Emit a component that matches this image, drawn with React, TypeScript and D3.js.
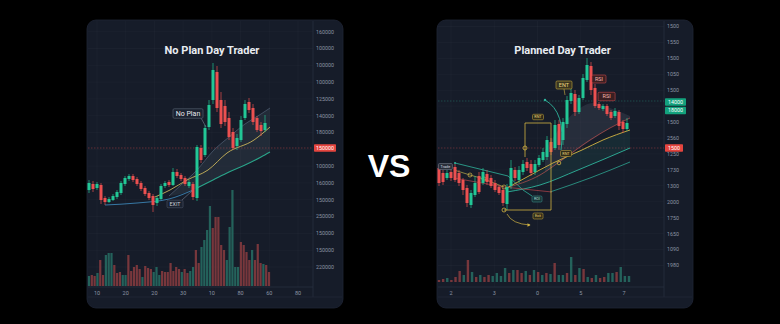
import { scaleLinear, scalePoint, line, area, curveMonotoneX } from "d3";

const W = 780;
const H = 324;

const GREEN = "#22c796";
const RED = "#ec5050";
const VOL_GREEN = "#276e64";
const VOL_RED = "#8a3c3f";
const FONT = "Roboto, 'DejaVu Sans', sans-serif";

// ---- left panel: "No Plan Day Trader" ----
// [open, close, high, low]
const leftCandles = [
  [110, 117, 120, 107], [116, 111, 119, 108], [112, 116, 118, 110], [115, 100, 117, 96],
  [102, 98, 104, 95], [98, 101, 103, 97], [100, 104, 106, 99], [103, 108, 110, 101],
  [107, 117, 119, 105], [116, 122, 124, 114], [121, 124, 126, 119], [124, 120, 126, 118],
  [121, 116, 123, 114], [117, 111, 119, 109], [112, 106, 114, 104], [107, 102, 109, 100],
  [104, 95, 106, 88], [97, 102, 104, 94], [101, 114, 116, 100], [114, 117, 119, 112],
  [118, 115, 120, 113], [115, 128, 132, 114], [128, 124, 131, 122], [125, 121, 127, 119],
  [122, 116, 124, 114], [114, 118, 120, 112], [116, 103, 118, 100], [102, 153, 155, 99],
  [152, 140, 155, 137], [145, 172, 175, 143], [173, 195, 200, 170], [200, 230, 237, 196],
  [228, 192, 234, 188], [200, 176, 208, 172], [194, 178, 200, 174], [182, 163, 188, 160],
  [168, 152, 172, 150], [154, 162, 166, 150], [160, 180, 184, 158], [182, 196, 200, 180],
  [198, 190, 202, 187], [192, 178, 196, 175], [182, 170, 184, 168], [175, 169, 178, 164],
  [170, 177, 185, 168],
];
const leftVolume = [
  10, 11, 10, 13, 26, 11, 31, 33, 33, 21, 13, 14, 11, 11, 31, 15, 19, 21, 17, 9,
  20, 18, 17, 14, 19, 11, 15, 14, 14, 23, 15, 19, 17, 14, 17, 13, 15, 19, 36, 23,
  39, 46, 56, 80, 58, 69, 69, 41, 36, 26, 59, 96, 19, 19, 44, 41, 34, 26, 36, 26,
  42, 23, 22, 21, 14,
];
const leftVolumeDir = "grrgrrgggrrrggrrrrrgrrrgggrrrrrrrgrrggrrggggrrrrrgggggrrrrgrrrg";
const leftPriceTicks = [
  "160000", "100000", "100000", "100000", "125000", "140000", "180000", "150000",
  "100000", "160000", "150000", "250000", "150000", "150000", "220000",
];
const leftTimeTicks = ["10", "20", "20", "30", "10", "80", "60", "80"];
const leftMarkPrice = 152;
// moving average / channel, as [candle index, price]
const leftMA = [[16.5, 103], [20.25, 110], [24.5, 120], [29.75, 130], [34.5, 147], [41.25, 160], [45.25, 173]];
const leftBlue = [[4, 95], [12, 97], [20, 101], [26, 110]];
const bandIndex = [20, 23, 27, 31, 35, 39, 43, 45.25];
const bandTop = [104, 115, 130, 149, 163, 176, 186, 192];
const bandBottom = [104, 106, 112, 120, 128, 135, 143, 148];

// ---- right panel: "Planned Day Trader" ----
const rightCandles = [
  [132, 117, 135, 114], [127, 118, 130, 115], [122, 127, 130, 120], [128, 122, 132, 119],
  [133, 120, 136, 118], [127, 117, 130, 114], [120, 110, 122, 105], [112, 97, 115, 93],
  [95, 107, 110, 92], [105, 117, 124, 103], [124, 108, 128, 106], [117, 128, 132, 115],
  [126, 118, 130, 115], [122, 114, 125, 112], [117, 110, 120, 108], [113, 107, 115, 105],
  [110, 97, 112, 94], [96, 113, 116, 90], [114, 132, 140, 111], [130, 122, 133, 119],
  [120, 130, 134, 117], [128, 136, 140, 125], [138, 132, 142, 129], [136, 127, 140, 124],
  [128, 136, 140, 125], [135, 142, 145, 133], [140, 148, 152, 138], [143, 160, 164, 140],
  [158, 148, 162, 145], [152, 175, 180, 150], [176, 155, 180, 150], [160, 178, 182, 155],
  [176, 200, 204, 172], [199, 207, 212, 196], [206, 188, 210, 184], [188, 202, 205, 186],
  [202, 222, 226, 200], [220, 235, 242, 218], [234, 210, 238, 205], [212, 194, 216, 192],
  [196, 192, 198, 190], [191, 194, 196, 189], [194, 186, 196, 184], [188, 182, 190, 180],
  [184, 189, 192, 182], [188, 174, 190, 170], [178, 171, 180, 167], [171, 177, 182, 169],
];
const rightVolume = [
  2, 3, 4, 2, 5, 11, 7, 22, 10, 5, 7, 5, 7, 6, 9, 6, 14, 9, 12, 12,
  9, 11, 7, 12, 10, 7, 9, 8, 19, 7, 7, 9, 25, 7, 14, 13, 5, 4, 7, 4,
  5, 9, 9, 10, 15, 6, 6,
];
const rightVolumeDir = "rrgrrrgrgrgrrggggrgrrgrgrgrgrggrgrgrgrgrrggrggg";
const rightPriceTicks = [
  "1500", "1550", "1500", "1050", "1500", "1500", "1500", "2560",
  "1250", "1730", "1300", "2000", "1750", "1650", "1090", "1980",
];
const rightTimeTicks = ["2", "3", "0", "5", "7"];
const rightTargetPrice = 199;
const rightStopPrice = 152;
const rightTrend = [[16.5, 111], [22, 123], [28.5, 137], [35.75, 150], [41, 160], [47.75, 170]];
const rightOlive = [[3.75, 130], [7.75, 125], [11.25, 121], [16.25, 113]];
const rightRedLow = [[3.75, 122], [16.25, 113], [28.25, 108]];
const rightTealLeft = [[4, 137], [17.25, 124], [21, 110], [23.25, 104]];
const rightRedCurve = [[16.5, 112], [25.25, 125], [30.75, 140], [37.75, 160], [42.75, 172], [47.75, 182]];
const cloudIndex = [26.5, 30.25, 34, 38.5, 42.75, 47.75];
const cloudTop = [150, 172, 188, 197, 192, 184];
const cloudBottom = [128, 138, 149, 161, 172, 182];
const tealUpper = [[17, 108], [25.25, 115], [34.75, 130], [47.75, 152]];
const tealFillIndex = [17, 25.25, 34.75, 47.75];
const tealFillTop = [111, 129, 149, 170];
const tealLower = [[27.75, 108], [37.75, 122], [47.75, 138]];

// shared price scale (both panels)
const y = scaleLinear().domain([0, 280]).range([300, 20]);

type Tag = { x: number; y: number; w: number; h: number; text: string; fs: number; fill: string; stroke: string; color: string };

function TagBox({ x, y: cy, w, h, text, fs, fill, stroke, color }: Tag) {
  return (
    <g>
      <rect x={x - w / 2} y={cy - h / 2} width={w} height={h} rx={1.2} fill={fill} stroke={stroke} strokeWidth={0.6} />
      <text x={x} y={cy} dy="0.36em" textAnchor="middle" fontSize={fs} fill={color} fontFamily={FONT}>
        {text}
      </text>
    </g>
  );
}

function Candles({ data, x, w }: { data: number[][]; x: (i: number) => number; w: number }) {
  return (
    <g>
      {data.map(([o, c, h, l], i) => {
        const col = c >= o ? GREEN : RED;
        const cx = x(i);
        return (
          <g key={i}>
            <line x1={cx} x2={cx} y1={y(h)} y2={y(l)} stroke={col} strokeWidth={0.8} opacity={0.85} />
            <rect x={cx - w / 2} y={y(Math.max(o, c))} width={w} height={Math.max(0.8, Math.abs(y(o) - y(c)))} fill={col} />
          </g>
        );
      })}
    </g>
  );
}

function Volume({ data, dir, x, vy, w }: { data: number[]; dir: string; x: (i: number) => number; vy: any; w: number }) {
  return (
    <g>
      {data.map((v, i) => (
        <rect key={i} x={x(i) - w / 2} y={vy(v)} width={w} height={vy(0) - vy(v)}
          fill={dir[i] === "g" ? VOL_GREEN : VOL_RED} opacity={0.85} />
      ))}
    </g>
  );
}

function Badge({ x, cy, w, text, fill }: { x: number; cy: number; w: number; text: string; fill: string }) {
  return (
    <g>
      <rect x={x} y={cy - 3.8} width={w} height={7.6} rx={0.8} fill={fill} />
      <text x={x + w / 2} y={cy} dy="0.36em" textAnchor="middle" fontSize={5.3} fill="#fff" fontFamily={FONT}>
        {text}
      </text>
    </g>
  );
}

function Frame({ left, axisX, title, priceTicks, priceRange, timeTicks, timeRange, skipTick }: {
  left: number; axisX: number; title: string; priceTicks: string[]; priceRange: [number, number];
  timeTicks: string[]; timeRange: [number, number]; skipTick: number;
}) {
  const py = scalePoint<number>().domain(priceTicks.map((_, i) => i)).range(priceRange);
  const tx = scalePoint<number>().domain(timeTicks.map((_, i) => i)).range(timeRange);
  const right = left + 256;
  return (
    <g>
      <rect x={left} y={20} width={256} height={288} rx={9} fill="#161c29" stroke="#1f2636" strokeWidth={0.8} />
      {priceTicks.map((_, i) => (
        <line key={"h" + i} x1={left + 1} x2={axisX} y1={py(i)} y2={py(i)} stroke="#ffffff" strokeOpacity={0.045} strokeWidth={0.6} />
      ))}
      {timeTicks.map((_, i) => (
        <line key={"v" + i} x1={tx(i)} x2={tx(i)} y1={21} y2={287} stroke="#ffffff" strokeOpacity={0.045} strokeWidth={0.6} />
      ))}
      <line x1={axisX} x2={axisX} y1={21} y2={297} stroke="#2a3242" strokeWidth={0.7} />
      <line x1={left + 1} x2={axisX} y1={287} y2={287} stroke="#2a3242" strokeWidth={0.7} />
      <line x1={left + 1} x2={right - 1} y1={297} y2={297} stroke="#222a39" strokeWidth={0.7} />
      {priceTicks.map((t, i) =>
        i === skipTick ? null : (
          <text key={"pt" + i} x={axisX + 3} y={py(i)} dy="0.36em" fontSize={5.3} fill="#8c94a4" fontFamily={FONT}>
            {t}
          </text>
        )
      )}
      {timeTicks.map((t, i) => (
        <text key={"tt" + i} x={tx(i)} y={293} dy="0.36em" textAnchor="middle" fontSize={5.5} fill="#8c94a4" fontFamily={FONT}>
          {t}
        </text>
      ))}
      <text x={(left + axisX) / 2 + 12} y={50} dy="0.36em" textAnchor="middle" fontSize={11} fontWeight={700} fill="#e9ecf1" fontFamily={FONT}>
        {title}
      </text>
    </g>
  );
}

function LeftPanel() {
  const x = scaleLinear().domain([0, leftCandles.length - 1]).range([89, 265]);
  const vx = scaleLinear().domain([0, leftVolume.length - 1]).range([89, 269]);
  const vy = scaleLinear().domain([0, 100]).range([286, 186]);
  const ln = line<number[]>().x((d) => x(d[0])).y((d) => y(d[1])).curve(curveMonotoneX);
  const band = area<number>()
    .x((_, i) => x(bandIndex[i]))
    .y0((_, i) => y(bandBottom[i]))
    .y1((_, i) => y(bandTop[i]))
    .curve(curveMonotoneX);
  const topLine = bandIndex.map((d, i) => [d, bandTop[i]]);
  const botLine = bandIndex.slice(2).map((d, i) => [d, bandBottom[i + 2]]);
  const axisX = 313;
  return (
    <g>
      <Frame left={87} axisX={axisX} title="No Plan Day Trader" priceTicks={leftPriceTicks} priceRange={[31.7, 267]}
        timeTicks={leftTimeTicks} timeRange={[97, 298]} skipTick={7} />
      <line x1={88} x2={axisX} y1={y(leftMarkPrice)} y2={y(leftMarkPrice)} stroke={RED} strokeOpacity={0.6} strokeWidth={0.6} strokeDasharray="1.5 1.5" />
      <Volume data={leftVolume} dir={leftVolumeDir} x={vx} vy={vy} w={2.2} />
      <path d={band(bandIndex) || ""} fill="#6f8a98" fillOpacity={0.14} />
      <path d={ln(topLine) || ""} fill="none" stroke="#5f7288" strokeWidth={0.7} strokeOpacity={0.8} />
      <path d={ln(leftBlue) || ""} fill="none" stroke="#3f8fc4" strokeWidth={0.8} />
      <path d={ln(botLine) || ""} fill="none" stroke="#2aa58a" strokeWidth={1.1} />
      <path d={ln(leftMA) || ""} fill="none" stroke="#c9b45a" strokeWidth={0.9} />
      <Candles data={leftCandles} x={x} w={3} />
      <line x1={x(28)} y1={y(182)} x2={x(29.25)} y2={y(173)} stroke="#8a93a3" strokeWidth={0.5} />
      <TagBox x={x(24.75)} y={y(186.5)} w={30} h={9.5} text="No Plan" fs={7} fill="#1b2230" stroke="#5b6475" color="#e6e9ee" />
      <line x1={x(23.25)} y1={y(100)} x2={x(25.75)} y2={y(109)} stroke="#8a93a3" strokeWidth={0.5} />
      <TagBox x={x(21.5)} y={y(96)} w={16} h={7.5} text="EXIT" fs={5.3} fill="#1b2230" stroke="#4d5668" color="#c9ced8" />
      <Badge x={axisX + 1} cy={y(leftMarkPrice)} w={22} text="150000" fill="#e5453f" />
    </g>
  );
}

function RightPanel() {
  const x = scaleLinear().domain([0, rightCandles.length - 1]).range([439, 627]);
  const vx = scaleLinear().domain([0, rightVolume.length - 1]).range([439, 629]);
  const vy = scaleLinear().domain([0, 100]).range([282, 182]);
  const ln = line<number[]>().x((d) => x(d[0])).y((d) => y(d[1])).curve(curveMonotoneX);
  const straight = line<number[]>().x((d) => x(d[0])).y((d) => y(d[1]));
  const cloud = area<number>().x((_, i) => x(cloudIndex[i])).y0((_, i) => y(cloudBottom[i])).y1((_, i) => y(cloudTop[i])).curve(curveMonotoneX);
  const tealFill = area<number>().x((_, i) => x(tealFillIndex[i])).y0((_, i) => y(tealUpper[i][1])).y1((_, i) => y(tealFillTop[i])).curve(curveMonotoneX);
  const axisX = 664;
  const YEL = "#d2b443";
  const TEAL = "#2fb49c";
  const bx1 = x(21.5);
  const bx2 = x(28);
  return (
    <g>
      <Frame left={437} axisX={axisX} title="Planned Day Trader" priceTicks={rightPriceTicks} priceRange={[26.5, 265.5]}
        timeTicks={rightTimeTicks} timeRange={[451, 624]} skipTick={5} />
      <line x1={438} x2={axisX} y1={y(rightTargetPrice)} y2={y(rightTargetPrice)} stroke={TEAL} strokeOpacity={0.5} strokeWidth={0.6} strokeDasharray="1.5 1.5" />
      <line x1={438} x2={axisX} y1={y(rightStopPrice)} y2={y(rightStopPrice)} stroke={RED} strokeOpacity={0.55} strokeWidth={0.6} strokeDasharray="1.5 1.5" />
      <Volume data={rightVolume} dir={rightVolumeDir} x={vx} vy={vy} w={2.4} />
      <path d={cloud(cloudIndex) || ""} fill="#8c97ab" fillOpacity={0.14} />
      <path d={tealFill(tealFillIndex) || ""} fill={TEAL} fillOpacity={0.1} />
      <path d={ln(tealLower) || ""} fill="none" stroke={TEAL} strokeWidth={0.9} strokeOpacity={0.8} />
      <path d={ln(tealUpper) || ""} fill="none" stroke={TEAL} strokeWidth={0.9} />
      <path d={straight(rightTealLeft) || ""} fill="none" stroke={TEAL} strokeWidth={0.8} />
      <path d={straight(rightRedLow) || ""} fill="none" stroke="#b8454a" strokeWidth={0.7} />
      <path d={straight(rightOlive) || ""} fill="none" stroke="#a89a48" strokeWidth={0.8} />
      <path d={ln(rightRedCurve) || ""} fill="none" stroke="#c0504f" strokeWidth={0.7} />
      <path d={ln(rightTrend) || ""} fill="none" stroke={YEL} strokeWidth={0.9} />
      {rightOlive.slice(1).map((d, i) => (
        <circle key={i} cx={x(d[0])} cy={y(d[1])} r={2} fill="none" stroke={YEL} strokeWidth={0.7} />
      ))}
      <Candles data={rightCandles} x={x} w={3} />
      {/* trade plan bracket */}
      <g stroke={YEL} strokeWidth={0.8} fill="none">
        <line x1={bx1} x2={bx1} y1={y(177)} y2={y(143)} />
        <line x1={bx1} x2={bx2} y1={y(177)} y2={y(177)} />
        <line x1={bx2} x2={bx2} y1={y(177)} y2={y(90)} />
        <line x1={x(16.25)} x2={bx2} y1={y(90)} y2={y(90)} />
        <circle cx={bx1} cy={y(152)} r={2} />
        <circle cx={x(16.25)} cy={y(90)} r={2} />
        <circle cx={x(30)} cy={y(137)} r={1.8} />
        <path d={`M${x(17)},${y(86)} Q${x(18.25)},${y(76)} ${x(22.75)},${y(75)}`} strokeWidth={0.7} />
      </g>
      <path d={`M${x(22.75) - 2.5},${y(75) - 1.8} L${x(22.75) + 0.5},${y(75)} L${x(22.75) - 2.5},${y(75) + 1.8}Z`} fill={YEL} />
      <path d={`M${x(26.5)},${y(200)} Q${x(31.75)},${y(188)} ${x(30.5)},${y(150)}`} fill="none" stroke={TEAL} strokeWidth={0.9} />
      <circle cx={x(26.5)} cy={y(200)} r={1.2} fill={TEAL} />
      <circle cx={x(4)} cy={y(137)} r={1} fill={TEAL} />
      <TagBox x={x(24.75)} y={y(183)} w={11} h={5.5} text="RNT" fs={3.8} fill="#2f2c1a" stroke="#b79a3a" color="#e6cf74" />
      <TagBox x={x(24.75)} y={y(84)} w={10} h={6} text="Exit" fs={3.8} fill="#2f2c1a" stroke="#b79a3a" color="#e6cf74" />
      <TagBox x={x(24.5)} y={y(101)} w={10} h={6} text="ROI" fs={3.8} fill="#173236" stroke="#3a8a86" color="#a8dcd3" />
      <TagBox x={x(31.75)} y={y(146.5)} w={11} h={6} text="RNT" fs={3.8} fill="#2f2c1a" stroke="#b79a3a" color="#e6cf74" />
      <TagBox x={x(1.6)} y={y(133.5)} w={14} h={6} text="Trade" fs={3.8} fill="#2a2f3a" stroke="#707888" color="#d7dbe2" />
      <line x1={x(31.25)} x2={x(31.5)} y1={y(211)} y2={y(205)} stroke={YEL} strokeWidth={0.6} />
      <TagBox x={x(31.25)} y={y(215)} w={16} h={8} text="ENT" fs={5.5} fill="#3a3520" stroke="#c8a83a" color="#ead47c" />
      <TagBox x={x(40)} y={y(221)} w={14} h={8} text="RSI" fs={5.5} fill="#3a1f22" stroke="#c9484a" color="#f2b4ab" />
      <TagBox x={x(41.9)} y={y(203.5)} w={17} h={8.5} text="RSI" fs={5.5} fill="#3a1f22" stroke="#c9484a" color="#f2b4ab" />
      <Badge x={axisX + 1} cy={y(rightTargetPrice) + 1} w={21} text="14000" fill="#13a27d" />
      <Badge x={axisX + 1} cy={y(rightTargetPrice) + 9.5} w={21} text="18000" fill="#13a27d" />
      <Badge x={axisX + 1} cy={y(rightStopPrice)} w={18} text="1500" fill="#e5453f" />
    </g>
  );
}

export default function App() {
  return (
    <svg width={W} height={H} viewBox={`0 0 ${W} ${H}`} style={{ position: "absolute", left: 0, top: 0, background: "#000" }}>
      <rect width={W} height={H} fill="#000" />
      <LeftPanel />
      <RightPanel />
      <text x={389} y={177} textAnchor="middle" fontSize={32} fontWeight={700} fill="#ffffff" fontFamily="'Liberation Sans', Arial, sans-serif">
        VS
      </text>
    </svg>
  );
}
